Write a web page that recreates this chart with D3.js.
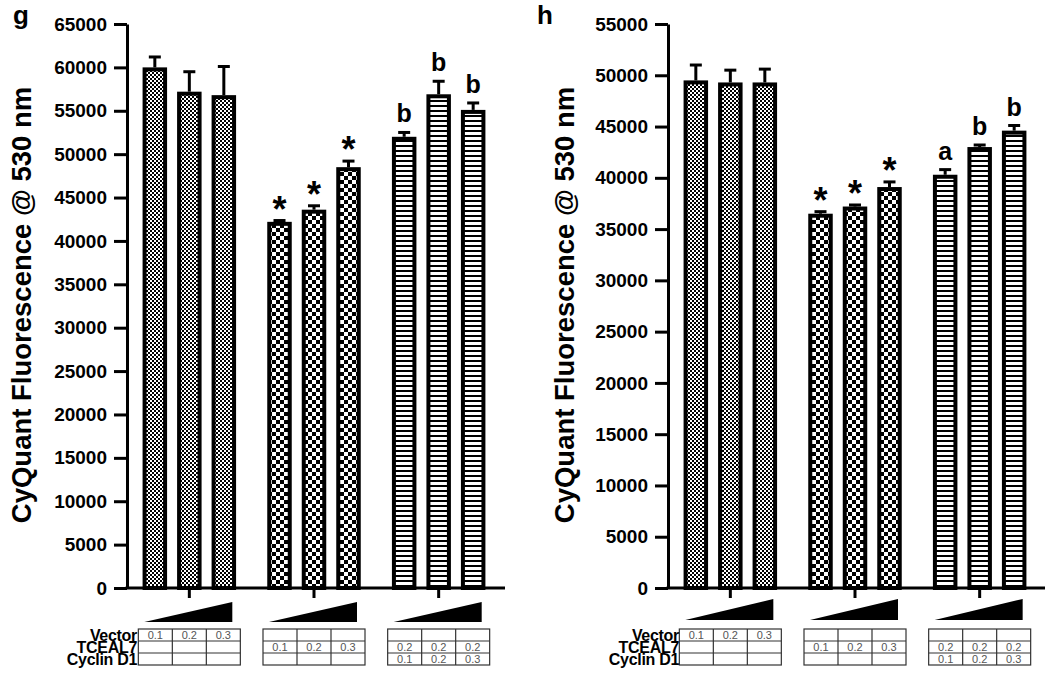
<!DOCTYPE html>
<html><head><meta charset="utf-8">
<script src="https://cdn.jsdelivr.net/npm/d3@7"></script>
<style>body{margin:0;background:#fff}svg{display:block;font-family:Arial,"Liberation Sans",sans-serif}</style>
</head><body><svg id="c" width="1050" height="676"></svg>
<script>
// ---------- data ----------
const groups = ["Vector", "TCEAL7", "TCEAL7 + Cyclin D1"];
const doses = ["low", "mid", "high"];
const valuesG = [60000, 57200, 56800, 42200, 43600, 48500, 52000, 56900, 55100];
const errorsG = [1200, 2300, 3300, 150, 450, 700, 500, 1500, 800];
const marksG  = ["", "", "", "*", "*", "*", "b", "b", "b"];
const valuesH = [49500, 49300, 49300, 36500, 37200, 39100, 40300, 43000, 44600];
const errorsH = [1500, 1200, 1300, 200, 150, 500, 500, 200, 500];
const marksH  = ["", "", "", "*", "*", "*", "a", "b", "b"];
const ticksG = [0,5000,10000,15000,20000,25000,30000,35000,40000,45000,50000,55000,60000,65000];
const ticksH = [0,5000,10000,15000,20000,25000,30000,35000,40000,45000,50000,55000];
const tableRows = ["Vector", "TCEAL7", "Cyclin D1"];
const tableVector = [["0.1","0.2","0.3"], ["","",""], ["","",""]];
const tableTceal  = [["","",""], ["0.1","0.2","0.3"], ["","",""]];
const tableCombo  = [["","",""], ["0.2","0.2","0.2"], ["0.1","0.2","0.3"]];
const yLabel = "CyQuant Fluorescence @ 530 nm";
const panelLetters = ["g", "h"];

// ---------- drawing ----------
const svg = d3.select("#c");
const defs = svg.append("defs");
const pf = defs.append("pattern").attr("id","fine").attr("patternUnits","userSpaceOnUse").attr("width",4).attr("height",4);
pf.append("rect").attr("width",4).attr("height",4).attr("fill","#fff");
pf.append("rect").attr("width",2).attr("height",2).attr("fill","#000");
pf.append("rect").attr("x",2).attr("y",2).attr("width",2).attr("height",2).attr("fill","#000");
const pc = defs.append("pattern").attr("id","coarse").attr("patternUnits","userSpaceOnUse").attr("width",8).attr("height",8);
pc.append("rect").attr("width",8).attr("height",8).attr("fill","#fff");
pc.append("rect").attr("width",4).attr("height",4).attr("fill","#000");
pc.append("rect").attr("x",4).attr("y",4).attr("width",4).attr("height",4).attr("fill","#000");
const ps = defs.append("pattern").attr("id","stripes").attr("patternUnits","userSpaceOnUse").attr("width",5).attr("height",5);
ps.append("rect").attr("width",5).attr("height",5).attr("fill","#fff");
ps.append("rect").attr("width",5).attr("height",2).attr("fill","#000");
const fills = ["url(#fine)", "url(#coarse)", "url(#stripes)"];
const tables = [tableVector, tableTceal, tableCombo];

const panels = [
  {letter: panelLetters[0], values: valuesG, errors: errorsG, marks: marksG, ticks: ticksG,
   ax: 127, xEnd: 505, bandEnd: 501, labelX: 21, letterX: 13, rowLabelX: 137, wedgeTop: 602, wedgeBot: 622},
  {letter: panelLetters[1], values: valuesH, errors: errorsH, marks: marksH, ticks: ticksH,
   ax: 668, xEnd: 1045, bandEnd: 1042, labelX: 564, letterX: 537, rowLabelX: 679, wedgeTop: 599, wedgeBot: 620}
];
const yBottom = 588, yTop = 24;

panels.forEach(p => {
  const g = svg.append("g");
  const y = d3.scaleLinear().domain([0, d3.max(p.ticks)]).range([yBottom, yTop]);
  const x = d3.scaleBand().domain(groups).range([p.ax, p.bandEnd]).padding(0);
  const xi = d3.scaleBand().domain(doses).range([-51.75, 51.75]).paddingInner(0.29).paddingOuter(0.145);
  const bw = xi.bandwidth();

  const data = [];
  groups.forEach((gr, gi) => doses.forEach((d, di) => {
    const k = gi * 3 + di;
    data.push({gi, gr, d, v: p.values[k], e: p.errors[k], m: p.marks[k]});
  }));

  g.selectAll("rect.bar").data(data).join("rect").attr("class","bar")
    .attr("x", d => x(d.gr) + x.bandwidth()/2 + xi(d.d) + 2)
    .attr("width", bw - 4)
    .attr("y", d => y(d.v) + 2)
    .attr("height", d => y(0) - y(d.v) - 2)
    .attr("fill", d => fills[d.gi])
    .attr("stroke", "#000").attr("stroke-width", 4);

  const cx = d => x(d.gr) + x.bandwidth()/2 + xi(d.d) + bw/2;
  g.selectAll("line.err").data(data).join("line").attr("class","err")
    .attr("x1", cx).attr("x2", cx)
    .attr("y1", d => y(d.v)).attr("y2", d => y(d.v + d.e))
    .attr("stroke","#000").attr("stroke-width",3);
  g.selectAll("line.cap").data(data).join("line").attr("class","cap")
    .attr("x1", d => cx(d) - 6).attr("x2", d => cx(d) + 6)
    .attr("y1", d => y(d.v + d.e)).attr("y2", d => y(d.v + d.e))
    .attr("stroke","#000").attr("stroke-width",3);

  g.selectAll("text.mark").data(data.filter(d => d.m)).join("text").attr("class","mark")
    .attr("x", cx)
    .attr("y", d => d.m === "*" ? y(d.v + d.e) + 1 : y(d.v + d.e) - 10)
    .attr("text-anchor","middle")
    .attr("font-weight","bold")
    .attr("font-size", d => d.m === "*" ? 36 : 25)
    .text(d => d.m);

  const ya = g.append("g").attr("transform", `translate(${p.ax},0)`)
    .call(d3.axisLeft(y).tickValues(p.ticks).tickFormat(d3.format("d")).tickSize(13).tickSizeOuter(0).tickPadding(7));
  ya.select(".domain").attr("stroke-width", 3);
  ya.selectAll(".tick line").attr("stroke-width", 3);
  ya.selectAll(".tick text").attr("font-size", 19).attr("font-weight","bold").attr("fill","#000")
    .attr("font-family","Arial, 'Liberation Sans', sans-serif");

  const xa = g.append("g").attr("transform", `translate(0,${yBottom})`)
    .call(d3.axisBottom(x).tickSize(10).tickSizeOuter(0).tickFormat(""));
  xa.select(".domain").remove();
  xa.selectAll(".tick line").attr("stroke-width", 3);
  g.append("line").attr("x1", p.ax - 1.5).attr("x2", p.xEnd).attr("y1", yBottom).attr("y2", yBottom)
    .attr("stroke","#000").attr("stroke-width",3);

  g.append("text").attr("transform", `translate(${p.labelX},${305}) rotate(-90)`)
    .attr("text-anchor","middle").attr("dominant-baseline","central")
    .attr("font-size", 27.5).attr("font-weight","bold").text(yLabel);
  g.append("text").attr("x", p.letterX).attr("y", 24).attr("font-size", 26).attr("font-weight","bold").text(p.letter);

  g.selectAll("path.wedge").data(groups).join("path").attr("class","wedge")
    .attr("d", gr => {
      const c = x(gr) + x.bandwidth()/2;
      return `M${c - 45},${p.wedgeBot} L${c + 43},${p.wedgeTop} L${c + 43},${p.wedgeBot} Z`;
    }).attr("fill","#000");

  const rowY = d3.scaleBand().domain(tableRows).range([629, 665]);
  const colX = d3.scaleBand().domain(doses).range([-51, 51]);
  groups.forEach((gr, gi) => {
    const c = x(gr) + x.bandwidth()/2;
    const tg = g.append("g").attr("transform", `translate(${c},0)`);
    tg.append("rect").attr("x", -51).attr("y", 629).attr("width", 102).attr("height", 36)
      .attr("fill","none").attr("stroke","#333").attr("stroke-width",1.2);
    tableRows.slice(1).forEach(r => tg.append("line").attr("x1",-51).attr("x2",51)
      .attr("y1", rowY(r)).attr("y2", rowY(r)).attr("stroke","#333").attr("stroke-width",1.2));
    doses.slice(1).forEach(d => tg.append("line").attr("x1", colX(d)).attr("x2", colX(d))
      .attr("y1", 629).attr("y2", 665).attr("stroke","#333").attr("stroke-width",1.2));
    tableRows.forEach((r, ri) => doses.forEach((d, di) => {
      const t = tables[gi][ri][di];
      if (t) tg.append("text").attr("x", colX(d) + colX.bandwidth()/2).attr("y", rowY(r) + rowY.bandwidth()/2 + 4)
        .attr("text-anchor","middle").attr("font-size", 11).attr("fill","#555").text(t);
    }));
  });
  const rl = g.append("text").attr("text-anchor","end").attr("font-size", 16).attr("font-weight","bold")
    .attr("letter-spacing", -0.3);
  tableRows.forEach(r => rl.append("tspan").attr("x", p.rowLabelX).attr("y", rowY(r) + rowY.bandwidth()/2 + 6).text(r));
});
</script></body></html>
